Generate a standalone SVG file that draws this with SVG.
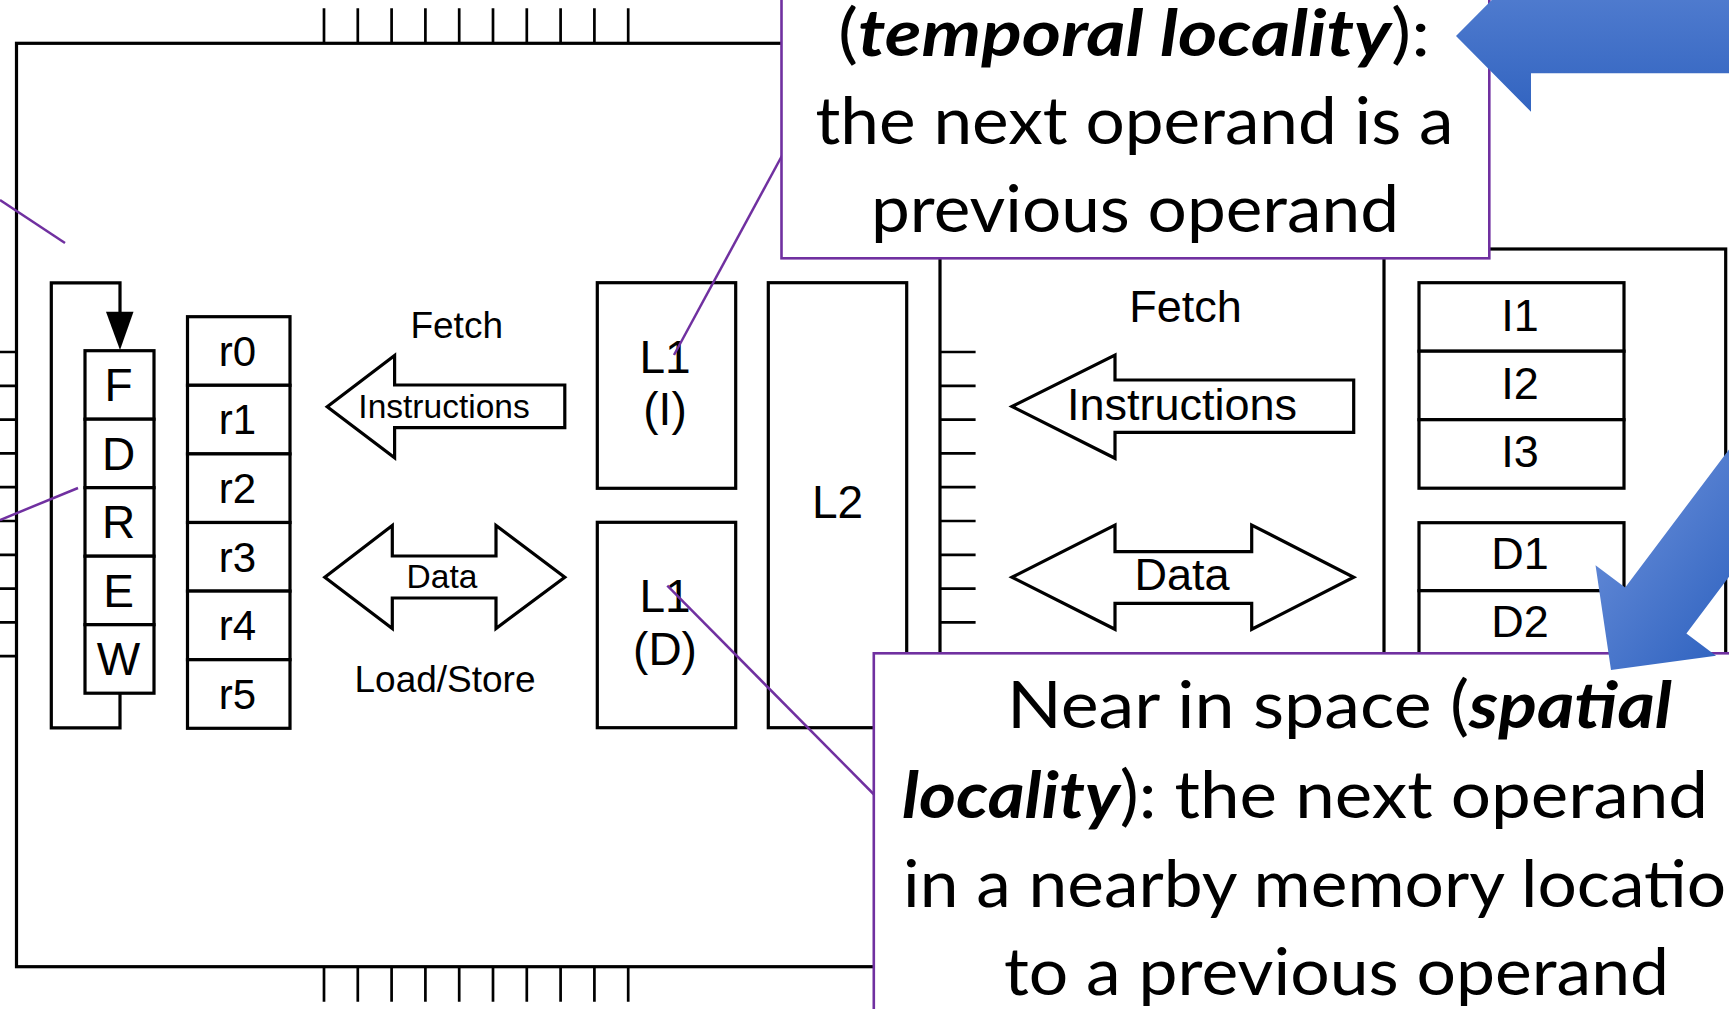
<svg xmlns="http://www.w3.org/2000/svg" width="1729" height="1009" viewBox="0 0 1729 1009">
  <style>
    .edge { fill: none; stroke: #000; stroke-width: 3.2; stroke-linejoin: miter; }
    .box { fill: #fff; stroke: #000; stroke-width: 3.2; }
    .pin { stroke: #000; stroke-width: 2.7; fill: none; }
    .bus { fill: #fff; stroke: #000; stroke-width: 3.2; stroke-linejoin: miter; }
    .lbl { font-family: "Liberation Sans", Arial, Helvetica, sans-serif; fill: #000; text-anchor: middle; }
    .lead { stroke: #7030A0; stroke-width: 2.5; fill: none; }
    .callout { fill: #fff; stroke: #7030A0; stroke-width: 2.6; }
    .note { font-family: Lato, "Open Sans", sans-serif; font-size: 65px; fill: #000; }
    .bi { font-weight: bold; font-style: italic; }
  </style>
  <defs>
    <linearGradient id="blueDown" x1="0" y1="0" x2="0" y2="1">
      <stop offset="0" stop-color="#5882d3"/>
      <stop offset="1" stop-color="#3264c0"/>
    </linearGradient>
    <linearGradient id="blueSide" x1="0" y1="1" x2="0" y2="0">
      <stop offset="0" stop-color="#5d85d4"/>
      <stop offset="1" stop-color="#3265c1"/>
    </linearGradient>
  </defs>

  <rect width="1729" height="1009" fill="#fff"/>

  <!-- processor chip outline and pins -->
  <g id="cpu-chip">
    <rect class="edge" x="16.5" y="43.3" width="923.5" height="923.4"/>
    <path class="pin" d="M324 8.3V43.3M357.8 8.3V43.3M391.6 8.3V43.3M425.4 8.3V43.3M459.2 8.3V43.3M493 8.3V43.3M526.8 8.3V43.3M560.6 8.3V43.3M594.4 8.3V43.3M628.2 8.3V43.3"/>
    <path class="pin" d="M324 966.7V1001.7M357.8 966.7V1001.7M391.6 966.7V1001.7M425.4 966.7V1001.7M459.2 966.7V1001.7M493 966.7V1001.7M526.8 966.7V1001.7M560.6 966.7V1001.7M594.4 966.7V1001.7M628.2 966.7V1001.7"/>
    <path class="pin" d="M-20 352H16.5M-20 385.8H16.5M-20 419.6H16.5M-20 453.4H16.5M-20 487.2H16.5M-20 521H16.5M-20 554.8H16.5M-20 588.6H16.5M-20 622.4H16.5M-20 656.2H16.5"/>
    <path class="pin" d="M940 352H975.6M940 385.8H975.6M940 419.6H975.6M940 453.4H975.6M940 487.2H975.6M940 521H975.6M940 554.8H975.6M940 588.6H975.6M940 622.4H975.6M940 656.2H975.6"/>
  </g>

  <!-- pipeline stages with loop-back -->
  <g id="pipeline">
    <path class="edge" d="M120 693.2V727.8H51.3V282.8H120V313"/>
    <polygon points="106,311.7 133.5,311.7 120,350" fill="#000"/>
    <rect class="box" x="85" y="350.7" width="69" height="68.5"/>
    <rect class="box" x="85" y="419.2" width="69" height="68.5"/>
    <rect class="box" x="85" y="487.7" width="69" height="68.5"/>
    <rect class="box" x="85" y="556.2" width="69" height="68.5"/>
    <rect class="box" x="85" y="624.7" width="69" height="68.5"/>
    <g class="lbl" font-size="46">
      <text x="118.5" y="401">F</text>
      <text x="118.5" y="469.5">D</text>
      <text x="118.5" y="538">R</text>
      <text x="118.5" y="606.5">E</text>
      <text x="118.5" y="675">W</text>
    </g>
  </g>

  <!-- register file -->
  <g id="registers">
    <rect class="box" x="187.5" y="316.7" width="102.5" height="68.6"/>
    <rect class="box" x="187.5" y="385.3" width="102.5" height="68.6"/>
    <rect class="box" x="187.5" y="453.9" width="102.5" height="68.6"/>
    <rect class="box" x="187.5" y="522.5" width="102.5" height="68.6"/>
    <rect class="box" x="187.5" y="591.1" width="102.5" height="68.6"/>
    <rect class="box" x="187.5" y="659.7" width="102.5" height="68.6"/>
    <g class="lbl" font-size="42">
      <text x="237.5" y="365.8">r0</text>
      <text x="237.5" y="434.4">r1</text>
      <text x="237.5" y="503">r2</text>
      <text x="237.5" y="571.6">r3</text>
      <text x="237.5" y="640.2">r4</text>
      <text x="237.5" y="708.8">r5</text>
    </g>
  </g>

  <!-- L1 instruction cache -->
  <g id="l1-instr">
    <rect class="box" x="597.3" y="282.7" width="138.4" height="205.6"/>
    <text class="lbl" font-size="46" x="665" y="372.7">L1</text>
    <text class="lbl" font-size="46" x="665" y="425">(I)</text>
  </g>

  <!-- L1 data cache -->
  <g id="l1-data">
    <rect class="box" x="597.3" y="522.3" width="138.4" height="205.4"/>
    <text class="lbl" font-size="46" x="665" y="611.7">L1</text>
    <text class="lbl" font-size="46" x="665" y="665">(D)</text>
  </g>

  <!-- L2 cache -->
  <g id="l2">
    <rect class="box" x="768.3" y="282.7" width="138.4" height="445"/>
    <text class="lbl" font-size="46" x="837.5" y="518.3">L2</text>
  </g>

  <!-- main memory -->
  <g id="memory">
    <rect class="edge" x="1384" y="249" width="341.7" height="719"/>
    <rect class="box" x="1419" y="282.7" width="205" height="68.5"/>
    <rect class="box" x="1419" y="351.2" width="205" height="68.5"/>
    <rect class="box" x="1419" y="419.7" width="205" height="68.5"/>
    <rect class="box" x="1419" y="522.7" width="205" height="68"/>
    <rect class="box" x="1419" y="590.7" width="205" height="68"/>
    <g class="lbl" font-size="45">
      <text x="1520" y="330.7">I1</text>
      <text x="1520" y="398.8">I2</text>
      <text x="1520" y="466.9">I3</text>
      <text x="1520" y="569.3">D1</text>
      <text x="1520" y="637.3">D2</text>
    </g>
  </g>

  <!-- buses between the stages -->
  <g id="connectors">
    <text class="lbl" font-size="37" x="456.7" y="338.3">Fetch</text>
    <polygon class="bus" points="327.2,406.7 394.6,355.5 394.6,385 564.8,385 564.8,427.7 394.6,427.7 394.6,457.8"/>
    <text class="lbl" font-size="33.5" x="444" y="418">Instructions</text>
    <polygon class="bus" points="324.8,577.3 392.3,525.5 392.3,556 496,556 496,525.5 564.8,577.3 496,628.5 496,598 392.3,598 392.3,628.5"/>
    <text class="lbl" font-size="33.5" x="442" y="588">Data</text>
    <text class="lbl" font-size="37" x="445" y="692">Load/Store</text>

    <text class="lbl" font-size="45" x="1185.5" y="321.7">Fetch</text>
    <polygon class="bus" points="1012,406.5 1115,355 1115,380 1353.7,380 1353.7,432.3 1115,432.3 1115,458.3"/>
    <text class="lbl" font-size="45" x="1182" y="420">Instructions</text>
    <polygon class="bus" points="1012,577.3 1115,525 1115,551.7 1251.7,551.7 1251.7,525 1353.7,577.3 1251.7,629.3 1251.7,603.3 1115,603.3 1115,629.3"/>
    <text class="lbl" font-size="45" x="1182" y="590">Data</text>

    <!-- callout leaders -->
    <path class="lead" d="M0 200L65 243"/>
    <path class="lead" d="M0 520L78 488"/>
    <path class="lead" d="M784 152L674 355"/>
    <path class="lead" d="M667.3 585.7L875 795.5"/>
  </g>

  <!-- temporal locality callout -->
  <g id="temporal-note">
    <rect class="callout" x="781.5" y="-10" width="707.8" height="268.3"/>
    <text class="note" x="838" y="55.5" textLength="592" lengthAdjust="spacingAndGlyphs">(<tspan class="bi">temporal locality</tspan>):</text>
    <text class="note" x="815.5" y="143.5" textLength="638" lengthAdjust="spacingAndGlyphs">the next operand is a</text>
    <text class="note" x="871" y="231.7" textLength="528" lengthAdjust="spacingAndGlyphs">previous operand</text>
  </g>

  <!-- spatial locality callout -->
  <g id="spatial-note">
    <rect class="callout" x="873.8" y="653.3" width="900" height="420"/>
    <text class="note" x="1007" y="728.3" textLength="665" lengthAdjust="spacingAndGlyphs">Near in space (<tspan class="bi">spatial</tspan></text>
    <text class="note" x="902" y="818.3" textLength="806" lengthAdjust="spacingAndGlyphs"><tspan class="bi">locality</tspan>): the next operand</text>
    <text class="note" x="903" y="906.7" textLength="862" lengthAdjust="spacingAndGlyphs">in a nearby memory location</text>
    <text class="note" x="1004" y="995" textLength="665" lengthAdjust="spacingAndGlyphs">to a previous operand</text>
  </g>

  <!-- block arrows pointing at the callouts -->
  <g id="arrow-temporal">
    <polygon points="1456,36 1531,-39.5 1531,-1.3 1760,-1.3 1760,73.3 1531,73.3 1531,111.7" fill="url(#blueDown)"/>
  </g>
  <g id="arrow-spatial">
    <polygon transform="translate(1611,670) rotate(126.95)" points="0,0 -74.5,75.4 -74.5,38.3 -420,38.3 -420,-38.3 -74.5,-38.3 -74.5,-75.4" fill="url(#blueSide)"/>
  </g>
</svg>
